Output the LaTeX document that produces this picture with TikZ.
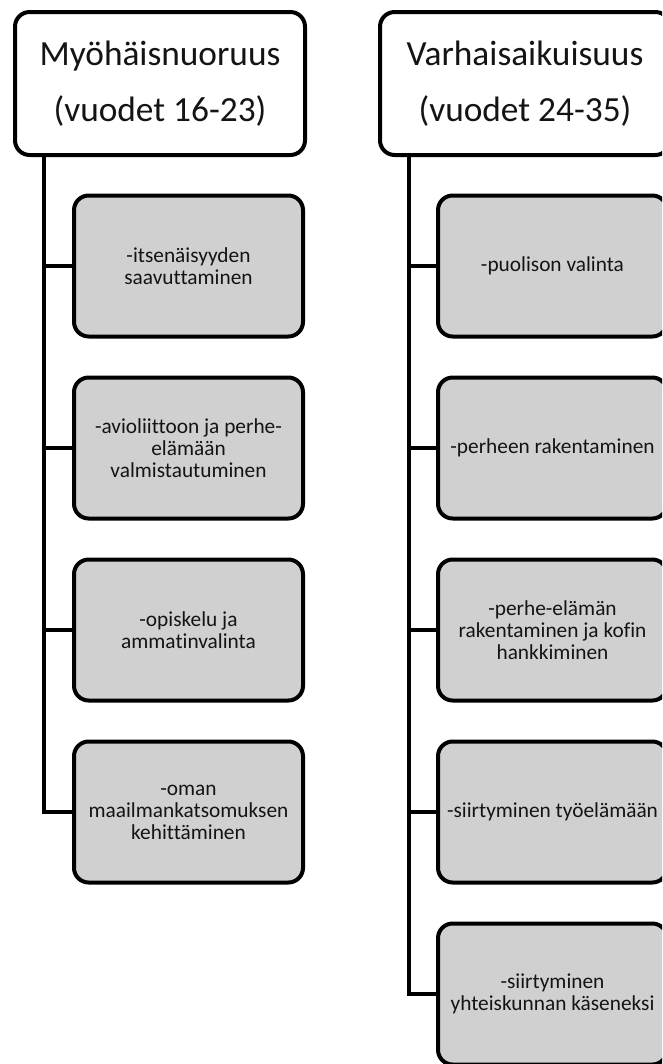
\documentclass[tikz,border=0pt]{standalone}
\usepackage{fontspec}
\setmainfont{Carlito}[Ligatures=NoCommon]
\definecolor{boxgray}{RGB}{208,208,208}
\definecolor{txt}{RGB}{20,20,20}
\begin{document}
\begin{tikzpicture}[x=0.75pt,y=-0.75pt,
  head/.style={draw=black,line width=3pt,rounded corners=11pt,fill=white,
    minimum width={290*0.75pt},minimum height={143*0.75pt},inner sep=0pt,
    align=center,text=txt,font=\fontsize{26.5pt}{42pt}\selectfont},
  child/.style={draw=black,line width=3pt,rounded corners=11pt,fill=boxgray,
    minimum width={229*0.75pt},minimum height={141*0.75pt},inner sep=0pt,
    align=center,text=txt,font=\fontsize{16pt}{16.5pt}\selectfont},
  conn/.style={draw=black,line width=3pt}]
\clip (0,0) rectangle (662,1064);
\fill[white] (0,0) rectangle (662,1064);
\coordinate (tL) at (44,155);
\coordinate (tR) at (409,155);
% left column
\node[head] (hL) at (160,83.5) {Myöhäisnuoruus\\(vuodet 16-23)};
\node[child] (l1) at (188.5,266) {-itsenäisyyden\\saavuttaminen};
\node[child] (l2) at (188.5,448) {-avioliittoon ja perhe-\\elämään\\valmistautuminen};
\node[child] (l3) at (188.5,630) {-opiskelu ja\\ammatinvalinta};
\node[child] (l4) at (188.5,812) {-oman\\maailmankatsomuksen\\kehittäminen};
\draw[conn] (tL) |- (l1.west);
\draw[conn] (tL) |- (l2.west);
\draw[conn] (tL) |- (l3.west);
\draw[conn] (tL) |- (l4.west);
% right column
\node[head] (hR) at (525,83.5) {Varhaisaikuisuus\\(vuodet 24-35)};
\node[child] (r1) at (552.5,266) {-puolison valinta};
\node[child] (r2) at (552.5,448) {-perheen rakentaminen};
\node[child] (r3) at (552.5,630) {-perhe-elämän\\rakentaminen ja kofin\\hankkiminen};
\node[child] (r4) at (552.5,812) {-siirtyminen työelämään};
\node[child] (r5) at (552.5,994) {-siirtyminen\\yhteiskunnan käseneksi};
\draw[conn] (tR) |- (r1.west);
\draw[conn] (tR) |- (r2.west);
\draw[conn] (tR) |- (r3.west);
\draw[conn] (tR) |- (r4.west);
\draw[conn] (tR) |- (r5.west);
\end{tikzpicture}
\end{document}
